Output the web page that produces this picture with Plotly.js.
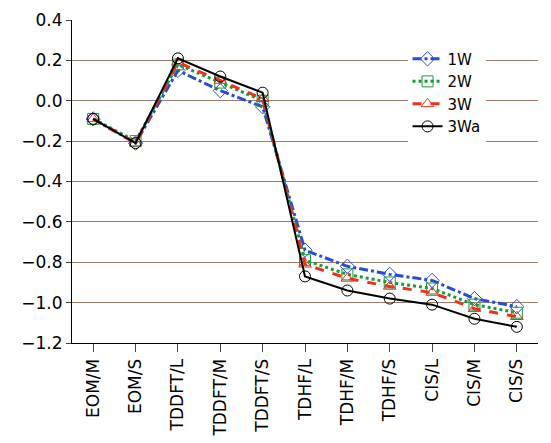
<!DOCTYPE html>
<html><head><script src="https://cdn.plot.ly/plotly-3.0.1.min.js"></script></head>
<body style="margin:0"><div id="g" style="width:551px;height:443px"></div>
<script>
const cats = ['EOM/M','EOM/S','TDDFT/L','TDDFT/M','TDDFT/S','TDHF/L','TDHF/M','TDHF/S','CIS/L','CIS/M','CIS/S'];
const w1 = [-0.09,-0.21,0.15,0.05,-0.03,-0.74,-0.82,-0.86,-0.89,-0.98,-1.02];
const w2 = [-0.09,-0.20,0.18,0.09,0.00,-0.79,-0.86,-0.90,-0.93,-1.01,-1.05];
const w3 = [-0.09,-0.21,0.19,0.10,0.01,-0.81,-0.88,-0.92,-0.95,-1.03,-1.07];
const w3a = [-0.09,-0.21,0.21,0.12,0.04,-0.87,-0.94,-0.98,-1.01,-1.08,-1.12];

function tr(y, name, color, dash, sym) {
  return {x: cats, y: y, name: name, type: 'scatter', mode: 'lines+markers',
    line: {color: color, width: name == '3Wa' ? 2 : 3, dash: dash},
    marker: {symbol: sym, size: 11, color: color, line: {color: color, width: 1}}};
}
const data = [
  tr(w1, '1W', '#2a4bd7', 'dashdot', 'diamond-open'),
  tr(w2, '2W', '#1a9a3a', 'dot', 'square-open'),
  tr(w3, '3W', '#e8331f', 'dash', 'triangle-up-open'),
  tr(w3a, '3Wa', '#000000', 'solid', 'circle-open')
];
const layout = {
  margin: {l: 72, r: 13, t: 20, b: 100},
  font: {family: 'DejaVu Sans', size: 17, color: '#000'},
  showlegend: true,
  legend: {x: 0.72, y: 0.93, bgcolor: 'rgba(255,255,255,1)', font: {size: 15}},
  xaxis: {tickangle: -90, showline: true, linecolor: '#000', ticks: 'outside', ticklen: 8,
    showgrid: false, range: [-0.5, 10.5], automargin: false},
  yaxis: {range: [-1.2, 0.4], dtick: 0.2, tickformat: '.1f', gridcolor: '#9a7b6e',
    showline: true, linecolor: '#000', ticks: 'outside', zeroline: false, automargin: false},
  plot_bgcolor: '#fff'
};
Plotly.newPlot('g', data, layout, {displayModeBar: false});
</script></body></html>
